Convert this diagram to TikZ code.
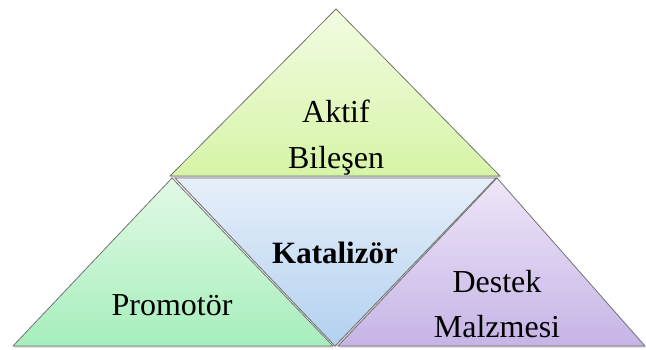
\documentclass[tikz,border=0pt]{standalone}
\usepackage{fontspec}
\setmainfont{Liberation Serif}
\usetikzlibrary{shadows}

\definecolor{aktifTop}{HTML}{F2FCE2}
\definecolor{aktifBot}{HTML}{D6F4A6}
\definecolor{promTop}{HTML}{E2F9E6}
\definecolor{promBot}{HTML}{A6EEBC}
\definecolor{katTop}{HTML}{E6EFF9}
\definecolor{katBot}{HTML}{B2D0F0}
\definecolor{destTop}{HTML}{EEE6F8}
\definecolor{destBot}{HTML}{C6B4E6}

\tikzset{
  face/.style={draw=black!55, line width=0.8pt, line join=miter,
    drop shadow={opacity=0.35, shadow xshift=0.6pt, shadow yshift=-1.6pt}},
  lbl/.style={anchor=base, inner sep=0pt, font=\fontsize{32}{38}\selectfont},
}

\begin{document}
\begin{tikzpicture}[x=1pt, y=1pt]
        \useasboundingbox (0,0) rectangle (646,349);
        % ust ucgen
        \path[face, top color=aktifTop, bottom color=aktifBot]
            (336,340) -- (170,173) -- (500,173) -- cycle;
        % sol ucgen
        \path[face, top color=promTop, bottom color=promBot]
            (172,171) -- (13,3) -- (333,3) -- cycle;
        % orta (ters) ucgen
        \path[face, top color=katTop, bottom color=katBot]
            (175,171) -- (496,171) -- (335,3) -- cycle;
        % sag ucgen
        \path[face, top color=destTop, bottom color=destBot]
            (497,171) -- (338,3) -- (645,3) -- cycle;
        % yazilar
        \node[lbl] (aktif) at (336,226) {Aktif};
        \node[lbl] (bilesen) at (336,181) {Bileşen};
        \node[lbl, font=\fontsize{31}{38}\selectfont\bfseries] (katalizor) at (335,86) {Katalizör};
        \node[lbl] (promotor) at (172,34) {Promotör};
        \node[lbl] (destek) at (497,57) {Destek};
        \node[lbl] (malzeme) at (497,12) {Malzmesi};
    \end{tikzpicture}
\end{document}
